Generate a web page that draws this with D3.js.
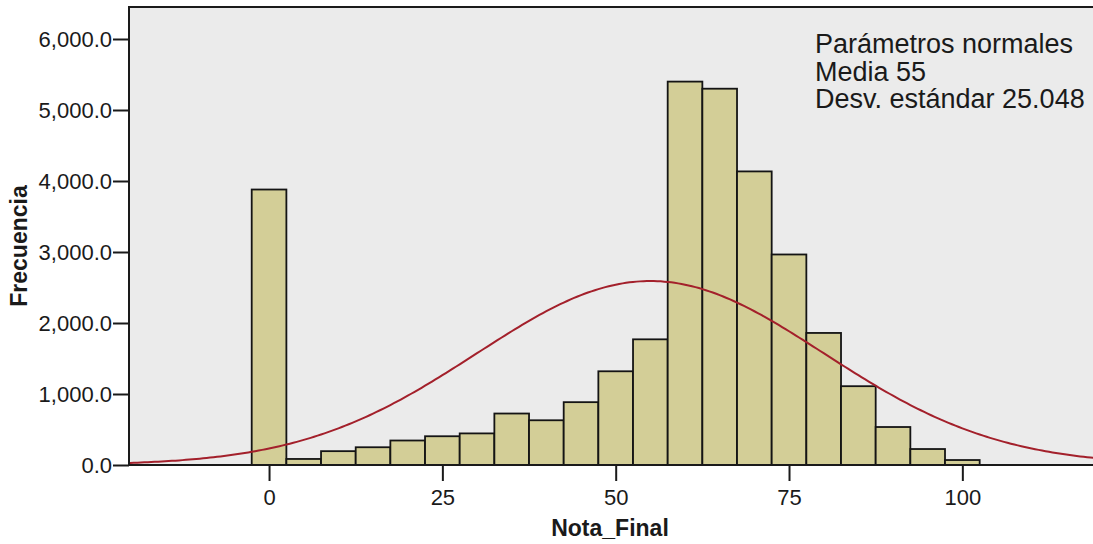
<!DOCTYPE html>
<html>
<head>
<meta charset="utf-8">
<script src="https://cdn.jsdelivr.net/npm/d3@7/dist/d3.min.js"></script>
<style>
  html, body { margin: 0; padding: 0; background: #ffffff; }
  svg { display: block; }
  text { font-family: "Liberation Sans", Arial, sans-serif; fill: #1a1a1a; }
</style>
</head>
<body>
<svg id="chart" width="1093" height="544"></svg>
<script>
// Histogram of Nota_Final (bin width 5, centred on multiples of 5)
const binCenters = [0, 5, 10, 15, 20, 25, 30, 35, 40, 45, 50, 55, 60, 65, 70, 75, 80, 85, 90, 95, 100];
const frequencies = [3880, 85, 195, 250, 345, 405, 445, 725, 630, 885, 1320, 1770, 5400, 5300, 4135, 2965, 1860, 1110, 535, 225, 70];
const binWidth = 5;

// Normal curve parameters
const normalMean = 55;
const normalSd = 25.048;
const legendLines = ["Parámetros normales", "Media 55", "Desv. estándar 25.048"];

const yTickValues = [0, 1000, 2000, 3000, 4000, 5000, 6000];
const xTickValues = [0, 25, 50, 75, 100];
const xTitle = "Nota_Final";
const yTitle = "Frecuencia";

const svg = d3.select("#chart");
const W = 1093, H = 544;
const plot = { left: 129, top: 7, right: 1093, bottom: 465 };

const x = d3.scaleLinear().domain([-20.2, 120]).range([plot.left, 1101]);
const y = d3.scaleLinear().domain([0, 6000]).range([plot.bottom, 39]);

// plot background
svg.append("rect")
  .attr("x", plot.left).attr("y", plot.top)
  .attr("width", plot.right - plot.left).attr("height", plot.bottom - plot.top)
  .attr("fill", "#ebebeb");

svg.append("clipPath").attr("id", "plotClip")
  .append("rect")
  .attr("x", plot.left).attr("y", plot.top)
  .attr("width", plot.right - plot.left).attr("height", plot.bottom - plot.top);

// bars
const bins = binCenters.map((c, i) => ({ c, v: frequencies[i] }));
svg.append("g")
  .selectAll("rect")
  .data(bins)
  .join("rect")
  .attr("x", d => x(d.c - binWidth / 2))
  .attr("y", d => y(d.v))
  .attr("width", d => x(d.c + binWidth / 2) - x(d.c - binWidth / 2))
  .attr("height", d => y(0) - y(d.v))
  .attr("fill", "#d3ce97")
  .attr("stroke", "#141414")
  .attr("stroke-width", 1.8);

// normal curve scaled to total count * bin width
const total = d3.sum(frequencies);
const density = t => total * binWidth / (normalSd * Math.sqrt(2 * Math.PI)) *
  Math.exp(-0.5 * Math.pow((t - normalMean) / normalSd, 2));
const curvePts = d3.range(-21, 121, 0.5).map(t => [t, density(t)]);
svg.append("path")
  .datum(curvePts)
  .attr("clip-path", "url(#plotClip)")
  .attr("fill", "none")
  .attr("stroke", "#a3202b")
  .attr("stroke-width", 2)
  .attr("d", d3.line().x(d => x(d[0])).y(d => y(d[1])));

// axes
const yAxis = d3.axisLeft(y)
  .tickValues(yTickValues)
  .tickFormat(d3.format(",.1f"))
  .tickSize(16)
  .tickSizeOuter(0)
  .tickPadding(1);
const gy = svg.append("g").attr("transform", `translate(${plot.left},0)`).call(yAxis);
gy.select(".domain").remove();
gy.selectAll(".tick line").attr("stroke", "#1a1a1a").attr("stroke-width", 2);
gy.selectAll(".tick text").attr("font-size", 22).attr("fill", "#1a1a1a")
  .attr("font-family", "'Liberation Sans', Arial, sans-serif");

const xAxis = d3.axisBottom(x)
  .tickValues(xTickValues)
  .tickFormat(d3.format("d"))
  .tickSize(16)
  .tickSizeOuter(0)
  .tickPadding(8);
const gx = svg.append("g").attr("transform", `translate(0,${plot.bottom})`).call(xAxis);
gx.select(".domain").remove();
gx.selectAll(".tick line").attr("stroke", "#1a1a1a").attr("stroke-width", 2);
gx.selectAll(".tick text").attr("font-size", 22).attr("fill", "#1a1a1a")
  .attr("font-family", "'Liberation Sans', Arial, sans-serif");

// frame lines: left, top, bottom
svg.append("path")
  .attr("d", `M${plot.right},${plot.top}H${plot.left}V${plot.bottom}H${plot.right}`)
  .attr("fill", "none")
  .attr("stroke", "#1a1a1a")
  .attr("stroke-width", 2);

// axis titles
svg.append("text")
  .attr("x", 610).attr("y", 536)
  .attr("text-anchor", "middle")
  .attr("font-size", 23).attr("font-weight", "bold")
  .text(xTitle);

svg.append("text")
  .attr("transform", "translate(27,246) rotate(-90)")
  .attr("text-anchor", "middle")
  .attr("font-size", 23).attr("font-weight", "bold")
  .text(yTitle);

// normal parameters note
svg.append("g")
  .selectAll("text")
  .data(legendLines)
  .join("text")
  .attr("x", 815)
  .attr("y", (d, i) => 53 + i * 27.5)
  .attr("font-size", 27)
  .text(d => d);
</script>
</body>
</html>
